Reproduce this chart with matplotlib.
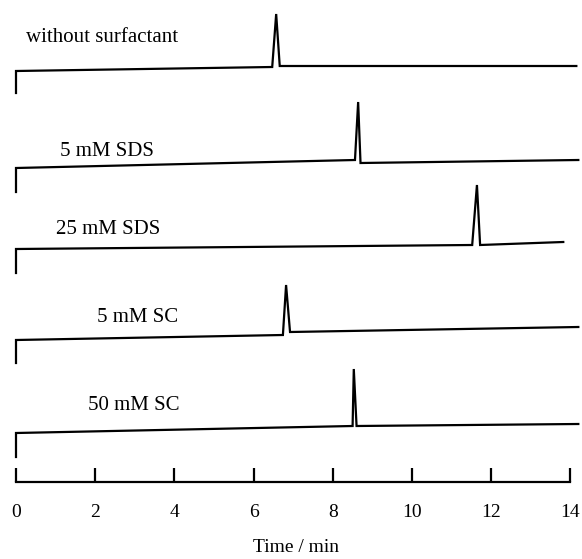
import matplotlib.pyplot as plt

# chromatogram traces (time in min, signal in arbitrary units above the trace start)
labels = ["without surfactant", "5 mM SDS", "25 mM SDS", "5 mM SC", "50 mM SC"]
times = [
    [0, 0, 6.47, 6.57, 6.66, 14.15],
    [0, 0, 8.56, 8.64, 8.70, 14.2],
    [0, 0, 11.52, 11.64, 11.72, 13.82],
    [0, 0, 6.74, 6.82, 6.92, 14.2],
    [0, 0, 8.50, 8.53, 8.60, 14.2],
]
signals = [
    [0, 22, 26, 79, 27, 27],
    [0, 24, 32, 90, 29, 32],
    [0, 24, 28, 88, 28, 31],
    [0, 23, 28, 78, 31, 36],
    [0, 24, 31, 88, 31, 33],
]
xticks = [0, 2, 4, 6, 8, 10, 12, 14]

# layout: vertical offset of each trace and label placement
offsets = [466, 367, 286, 196, 102]
label_x = [0.25, 1.1, 1.0, 2.05, 1.82]
label_y = [521, 407, 329, 241, 154]
axis_y = 77

fig = plt.figure(figsize=(5.82, 5.59), dpi=100)
ax = fig.add_axes([0, 0, 1, 1])
ax.set_xlim(-16 / 39.6, (582 - 16) / 39.6)
ax.set_ylim(0, 559)

for t, s, off, lab, lx, ly in zip(times, signals, offsets, labels, label_x, label_y):
    ax.plot(t, [v + off for v in s], color="black", lw=1.6, solid_joinstyle="miter")
    ax.text(lx, ly, lab, family="Liberation Serif", fontsize=15, va="center", ha="left")

for sp in ["top", "right", "left"]:
    ax.spines[sp].set_visible(False)
ax.spines["bottom"].set_position(("data", axis_y))
ax.spines["bottom"].set_bounds(0, 14)
ax.spines["bottom"].set_linewidth(1.6)
ax.set_xticks(xticks)
ax.set_xticklabels([str(v) for v in xticks], family="Liberation Serif", fontsize=14)
ax.tick_params(axis="x", direction="in", length=10, width=1.6, pad=16)
ax.set_yticks([])
ax.patch.set_visible(False)

fig.text(296 / 582, 1 - 548 / 559, "Time / min", family="Liberation Serif", fontsize=14,
         ha="center", va="center")

fig.savefig("out.png", dpi=100)
